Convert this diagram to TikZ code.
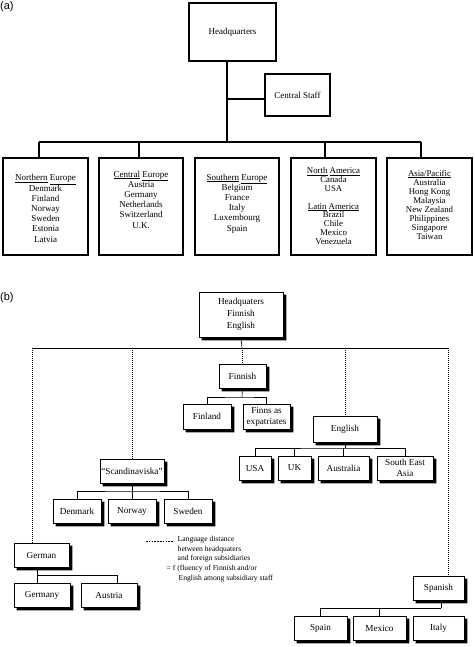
\documentclass[tikz,border=0pt]{standalone}
\usepackage{fontspec}
\setmainfont{Liberation Serif}
\newfontfamily\tagfont{Liberation Sans}

\begin{document}
\begin{tikzpicture}[x=1pt,y=-1pt,
	boxA/.style={draw,line width=1.3pt,inner sep=0pt,font=\fontsize{9}{10.2}\selectfont},
	listA/.style={align=center,inner sep=0pt,font=\fontsize{9}{10.2}\selectfont},
	linkA/.style={line width=1.8pt},
	boxB/.style={draw,fill=white,line width=0.7pt,inner sep=0pt,align=center,minimum height=24pt,
		font=\fontsize{9.2}{11}\selectfont},
	shadowB/.style={fill=black},
	linkB/.style={line width=0.6pt},
	distB/.style={line width=0.6pt,dash pattern=on 0.8pt off 1.2pt},
	legendline/.style={line width=0.5pt,dash pattern=on 1.6pt off 1.2pt},
	legendtxt/.style={align=left,inner sep=0pt,font=\fontsize{7.6}{9.7}\selectfont},
	paneltag/.style={anchor=west,inner sep=0pt,font=\tagfont\fontsize{11}{13}\selectfont}]
	\useasboundingbox (0,0) rectangle (474,647);

			\node[paneltag] (tagA) at (0,7) {(a)};
			\node[boxA,minimum width=87pt,minimum height=58pt] (hqA) at (232.5,32) {Headquarters};
			\node[boxA,minimum width=65pt,minimum height=42pt] (csA) at (297.5,95) {Central Staff};
			\node[boxA,minimum width=85pt,minimum height=97pt] (regN) at (45.5,206.5) {};
			\node[boxA,minimum width=84pt,minimum height=97pt] (regC) at (141,206.5) {};
			\node[boxA,minimum width=84pt,minimum height=97pt] (regS) at (237,206.5) {};
			\node[boxA,minimum width=85pt,minimum height=97pt] (regAm) at (333.5,206.5) {};
			\node[boxA,minimum width=85pt,minimum height=97pt] (regAP) at (429.5,206.5) {};
			\node[listA] (txtN) at (regN.center |- 0,208.5) {\underline{Northern} \underline{Europe}\\Denmark\\Finland\\Norway\\Sweden\\Estonia\\Latvia};
			\node[listA] (txtC) at (regC.center |- 0,199.5) {\underline{Central} \underline{Europe}\\Austria\\Germany\\Netherlands\\Switzerland\\U.K.};
			\node[listA] (txtS) at (regS.center |- 0,203.5) {\underline{Southern} \underline{Europe}\\Belgium\\France\\Italy\\Luxembourg\\Spain};
			\node[listA,font=\fontsize{8.8}{8.8}\selectfont] (txtAm) at (regAm.center |- 0,206) {\underline{North} \underline{America}\\Canada\\USA\\[9pt]\underline{Latin} \underline{America}\\Brazil\\Chile\\Mexico\\Venezuela};
			\node[listA,font=\fontsize{8.8}{9.1}\selectfont] (txtAP) at (regAP.center |- 0,205) {\underline{Asia/Pacific}\\Australia\\Hong Kong\\Malaysia\\New Zealand\\Philippines\\Singapore\\Taiwan};

			\coordinate (busA) at (227,142);
			\coordinate (csJoin) at (227,99);
			\coordinate (dN) at (39,142);
			\coordinate (dC) at (139,142);
			\coordinate (dAm) at (325,142);
			\coordinate (dAP) at (421,142);
			\draw[linkA] (hqA.south -| busA) -- (busA);
			\draw[linkA] (csJoin) -- (csJoin -| csA.west);
			\draw[linkA] (dN) -- (dAP);
			\path[linkA]
			(dN) edge (dN |- regN.north)
			(dC) edge (dC |- regC.north)
			(dAm) edge (dAm |- regAm.north)
			(dAP) edge (dAP |- regAP.north);

			\node[paneltag] (tagB) at (0,298) {(b)};
			\node[boxB,minimum width=84pt,minimum height=45pt,font=\fontsize{9.2}{12}\selectfont] (hqB) at (241,314.5) {Headquaters\\Finnish\\English};
			\node[boxB,minimum width=47pt] (finB) at (242.5,376) {Finnish};
			\node[boxB,minimum width=48pt,minimum height=25pt] (finlandB) at (207,416.5) {Finland};
			\node[boxB,minimum width=47pt,minimum height=25pt] (expatB) at (266.5,416.5) {Finns as\\expatriates};
			\node[boxB,minimum width=64pt,minimum height=26pt] (engB) at (345,429) {English};
			\node[boxB,minimum width=32pt] (usaB) at (255,468) {USA};
			\node[boxB,minimum width=33pt] (ukB) at (294.5,468) {UK};
			\node[boxB,minimum width=51pt] (ausB) at (343.5,468) {Australia};
			\node[boxB,minimum width=56pt] (seaB) at (405,468) {South East\\Asia};
			\node[boxB,minimum width=64pt] (scaB) at (132,471) {``Scandinaviska''};
			\node[boxB,minimum width=48pt] (denB) at (77,511) {Denmark};
			\node[boxB,minimum width=48pt] (norB) at (132,511) {Norway};
			\node[boxB,minimum width=48pt] (sweB) at (188,511) {Sweden};
			\node[boxB,minimum width=55pt] (gerB) at (41.5,555) {German};
			\node[boxB,minimum width=56pt] (germanyB) at (42,595) {Germany};
			\node[boxB,minimum width=56pt] (austriaB) at (109,595) {Austria};
			\node[boxB,minimum width=51pt] (spaB) at (438.5,588) {Spanish};
			\node[boxB,minimum width=53pt] (spainB) at (320.5,628) {Spain};
			\node[boxB,minimum width=53pt] (mexB) at (379.5,628) {Mexico};
			\node[boxB,minimum width=51pt] (italyB) at (438.5,628) {Italy};

			\foreach \n in {hqB,finB,finlandB,expatB,engB,usaB,ukB,ausB,seaB,scaB,denB,norB,sweB,gerB,germanyB,austriaB,spaB,spainB,mexB,italyB}
				\fill[shadowB] ([shift={(0.35pt,-3pt)}]\n.north east) -- ([shift={(3pt,-3pt)}]\n.north east)
					-- ([shift={(3pt,-3pt)}]\n.south east) -- ([shift={(3pt,-3pt)}]\n.south west)
					-- ([shift={(3pt,-0.35pt)}]\n.south west) -- ([shift={(0.35pt,-0.35pt)}]\n.south east) -- cycle;

			\coordinate (hqBus) at (242,348);
			\coordinate (dGer) at (32,348);
			\coordinate (dSca) at (132,348);
			\coordinate (dEng) at (345,348);
			\coordinate (dSpa) at (448,348);
			\draw[linkB] (hqB.south) -- (hqBus);
			\draw[linkB] (dGer) -- (dSpa);
			\path[distB]
			(dGer) edge (dGer |- gerB.north)
			(dSca) edge (dSca |- scaB.north)
			(hqBus) edge (hqBus |- finB.north)
			(dEng) edge (dEng |- engB.north)
			(dSpa) edge (dSpa |- spaB.north);

			\coordinate (finBus) at (242,397);
			\coordinate (engBus) at (345,448);
			\coordinate (scaBus) at (132,491);
			\coordinate (gerBus) at (37,575);
			\coordinate (spaBus) at (441,608);
			\draw[linkB] (finB.south) -- (finBus);
			\draw[linkB] (finlandB.north) |- (finBus) -| (expatB.north);
			\draw[linkB] (engB.south) -- (engBus);
			\draw[linkB] (usaB.north) |- (engBus) -| (seaB.north);
			\draw[linkB] (scaB.south) -- (scaBus);
			\draw[linkB] (denB.north) |- (scaBus) -| (sweB.north);
			\draw[linkB] (gerB.south -| gerBus) -- (gerBus);
			\draw[linkB] (germanyB.north -| gerBus) |- ([xshift=8pt]austriaB.north |- gerBus) -- ([xshift=8pt]austriaB.north);
			\draw[linkB] (spaB.south -| spaBus) -- (spaBus);
			\draw[linkB] (spainB.north) |- (spaBus);
			\path[linkB]
			(ukB.north) edge (ukB.north |- engBus)
			(ausB.north) edge (ausB.north |- engBus)
			(norB.north) edge (norB.north |- scaBus)
			(mexB.north) edge (mexB.north |- spaBus);

			\coordinate (legS) at (146,541);
			\coordinate (legE) at (173,541);
			\draw[legendline] (legS) -- (legE);
			\node[legendtxt,anchor=north west] (legend) at (166.5,536) {\hspace*{11pt}Language distance\\\hspace*{11pt}between headquaters\\\hspace*{11pt}and foreign subsidiaries\\= f (fluency of Finnish and/or\\\hspace*{12pt}English among subsidiary staff};
\end{tikzpicture}
\end{document}
